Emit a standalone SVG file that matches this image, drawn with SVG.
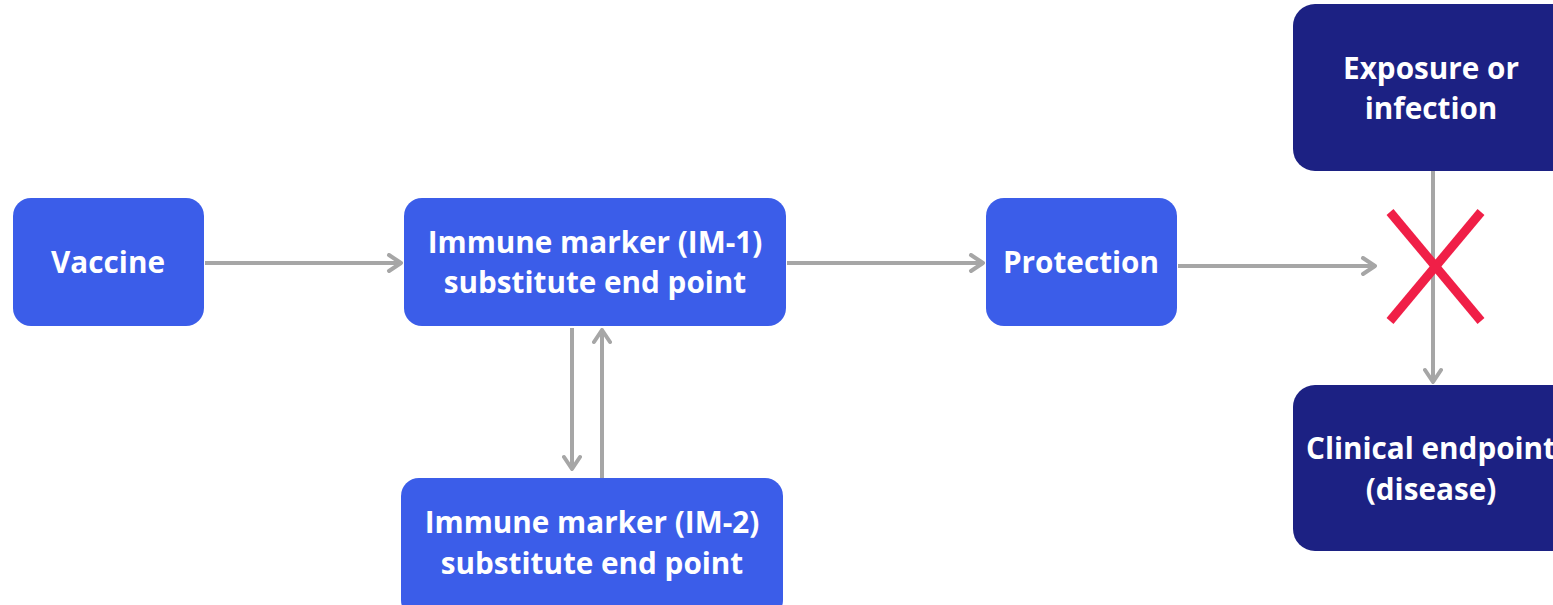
<svg xmlns="http://www.w3.org/2000/svg" width="1553" height="605" viewBox="0 0 1553 605">
<defs>
<style>
.b{fill:#3B5DE9}
.d{fill:#1C2183}
.t{font-family:"Open Sans","Noto Sans",sans-serif;font-weight:700;font-size:29.7px;fill:#fff;text-anchor:middle}
.c{stroke:#A6A6A6;stroke-width:4;fill:none}
</style>
<marker id="a" viewBox="0 0 20 20" refX="18" refY="10" markerWidth="20" markerHeight="20" markerUnits="userSpaceOnUse" orient="auto">
<path d="M6,2 L18,10 L6,18" fill="none" stroke="#A6A6A6" stroke-width="4" stroke-linecap="round" stroke-linejoin="round"/>
</marker>
</defs>
<rect width="1553" height="605" fill="#fff"/>
<g id="connectors">
<line class="c" x1="205" y1="263" x2="401" y2="263" marker-end="url(#a)"/>
<line class="c" x1="787" y1="263" x2="983" y2="263" marker-end="url(#a)"/>
<line class="c" x1="1178" y1="266" x2="1375" y2="266" marker-end="url(#a)"/>
<line class="c" x1="572" y1="328" x2="572" y2="469" marker-end="url(#a)"/>
<line class="c" x1="602" y1="478" x2="602" y2="330" marker-end="url(#a)"/>
<line class="c" x1="1433" y1="171" x2="1433" y2="382" marker-end="url(#a)"/>
</g>
<g id="cross">
<line x1="1390" y1="212" x2="1481" y2="321" stroke="#F01F47" stroke-width="9"/>
<line x1="1481" y1="212" x2="1390" y2="321" stroke="#F01F47" stroke-width="9"/>
</g>
<g id="vaccine">
<rect class="b" x="13" y="198" width="191" height="128" rx="18"/>
<text class="t" x="108" y="273">Vaccine</text>
</g>
<g id="im1">
<rect class="b" x="404" y="198" width="382" height="128" rx="18"/>
<text class="t" x="595" y="253">Immune marker (IM-1)</text>
<text class="t" x="595" y="293">substitute end point</text>
</g>
<g id="im2">
<rect class="b" x="401" y="478" width="382" height="140" rx="18"/>
<text class="t" x="592" y="533">Immune marker (IM-2)</text>
<text class="t" x="592" y="574">substitute end point</text>
</g>
<g id="protection">
<rect class="b" x="986" y="198" width="191" height="128" rx="18"/>
<text class="t" x="1081" y="273">Protection</text>
</g>
<g id="exposure">
<rect class="d" x="1293" y="4" width="290" height="167" rx="22"/>
<text class="t" x="1431" y="79">Exposure or</text>
<text class="t" x="1431" y="119">infection</text>
</g>
<g id="clinical">
<rect class="d" x="1293" y="385" width="290" height="166" rx="22"/>
<text class="t" x="1431" y="459">Clinical endpoint</text>
<text class="t" x="1431" y="500">(disease)</text>
</g>
</svg>
